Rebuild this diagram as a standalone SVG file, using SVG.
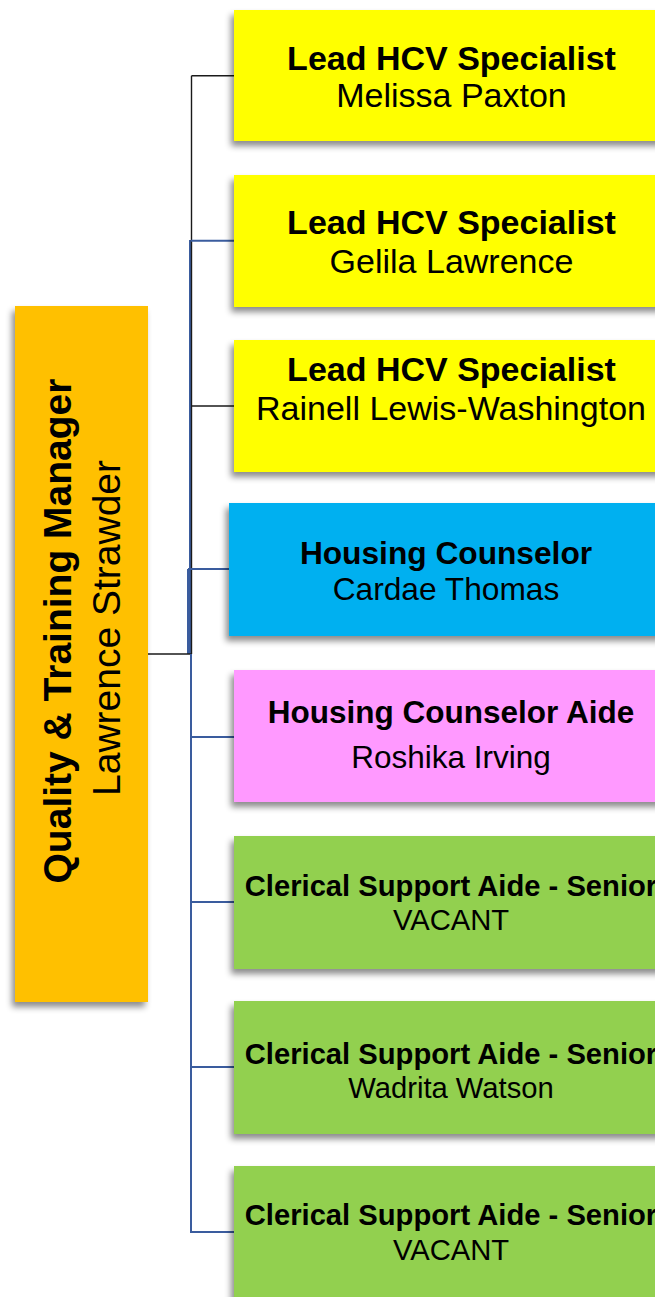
<svg xmlns="http://www.w3.org/2000/svg" width="655" height="1297" viewBox="0 0 655 1297">
<style>
.t{font-family:"Liberation Sans",Arial,sans-serif;fill:#000;text-anchor:middle}
.b{font-weight:bold}
.blk{stroke:#1a1a1a;stroke-width:1.4;fill:none}
.blu{stroke:#3a5c9e;stroke-width:2;fill:none}
.box{filter:url(#sh)}
</style>
<defs>
<filter id="sh" x="-10%" y="-10%" width="120%" height="125%">
<feDropShadow dx="-3" dy="5" stdDeviation="3" flood-color="#000" flood-opacity="0.45"/>
</filter>
</defs>
<rect width="655" height="1297" fill="#fff"/>
<g id="connectors">
<path class="blu" d="M190 240V654"/>
<path class="blu" d="M188 569V654"/>
<path class="blk" d="M191.5 75.7V654"/>
<path class="blk" d="M191.5 75.7H234"/>
<path class="blk" d="M191.5 406H234"/>
<path class="blu" d="M191 240.7H234"/>
<path class="blu" d="M188 569H229"/>
<path class="blk" d="M148 654H192"/>
<path class="blu" d="M191 654V1232"/>
<path class="blu" d="M191 737H234"/>
<path class="blu" d="M191 902H234"/>
<path class="blu" d="M191 1067H234"/>
<path class="blu" d="M190 1232H234"/>
</g>
<g id="manager">
<rect class="box" x="15" y="306" width="133" height="696" fill="#FFC000"/>
<text class="t b" font-size="39" transform="translate(71,631) rotate(-90)">Quality &amp; Training Manager</text>
<text class="t" font-size="39" transform="translate(120,628) rotate(-90)">Lawrence Strawder</text>
</g>
<g id="lead1">
<rect class="box" x="234" y="10" width="440" height="131" fill="#FFFF00"/>
<text class="t b" font-size="34" x="451.5" y="69.5">Lead HCV Specialist</text>
<text class="t" font-size="34" x="451.5" y="106.5">Melissa Paxton</text>
</g>
<g id="lead2">
<rect class="box" x="234" y="175" width="440" height="132" fill="#FFFF00"/>
<text class="t b" font-size="34" x="451.5" y="233.5">Lead HCV Specialist</text>
<text class="t" font-size="34" x="451.5" y="272.5">Gelila Lawrence</text>
</g>
<g id="lead3">
<rect class="box" x="234" y="340" width="440" height="132" fill="#FFFF00"/>
<text class="t b" font-size="34" x="451.5" y="380.5">Lead HCV Specialist</text>
<text class="t" font-size="34" x="451" y="419.5">Rainell Lewis-Washington</text>
</g>
<g id="counselor">
<rect class="box" x="229" y="503" width="440" height="133" fill="#00B0F0"/>
<text class="t b" font-size="31.7" x="446" y="563.5">Housing Counselor</text>
<text class="t" font-size="31.7" x="446" y="599.5">Cardae Thomas</text>
</g>
<g id="aide">
<rect class="box" x="234" y="670" width="440" height="132" fill="#FF99FF"/>
<text class="t b" font-size="31.5" x="451" y="723">Housing Counselor Aide</text>
<text class="t" font-size="31.5" x="451" y="768">Roshika Irving</text>
</g>
<g id="clerical1">
<rect class="box" x="234" y="836" width="440" height="133" fill="#92D050"/>
<text class="t b" font-size="29.2" x="451" y="896">Clerical Support Aide - Senior</text>
<text class="t" font-size="29.2" x="451" y="929.5">VACANT</text>
</g>
<g id="clerical2">
<rect class="box" x="234" y="1001" width="440" height="133" fill="#92D050"/>
<text class="t b" font-size="29.2" x="451" y="1063.5">Clerical Support Aide - Senior</text>
<text class="t" font-size="29.2" x="451" y="1097.5">Wadrita Watson</text>
</g>
<g id="clerical3">
<rect class="box" x="234" y="1166" width="440" height="150" fill="#92D050"/>
<text class="t b" font-size="29.2" x="451" y="1224.5">Clerical Support Aide - Senior</text>
<text class="t" font-size="29.2" x="451" y="1260">VACANT</text>
</g>
</svg>
